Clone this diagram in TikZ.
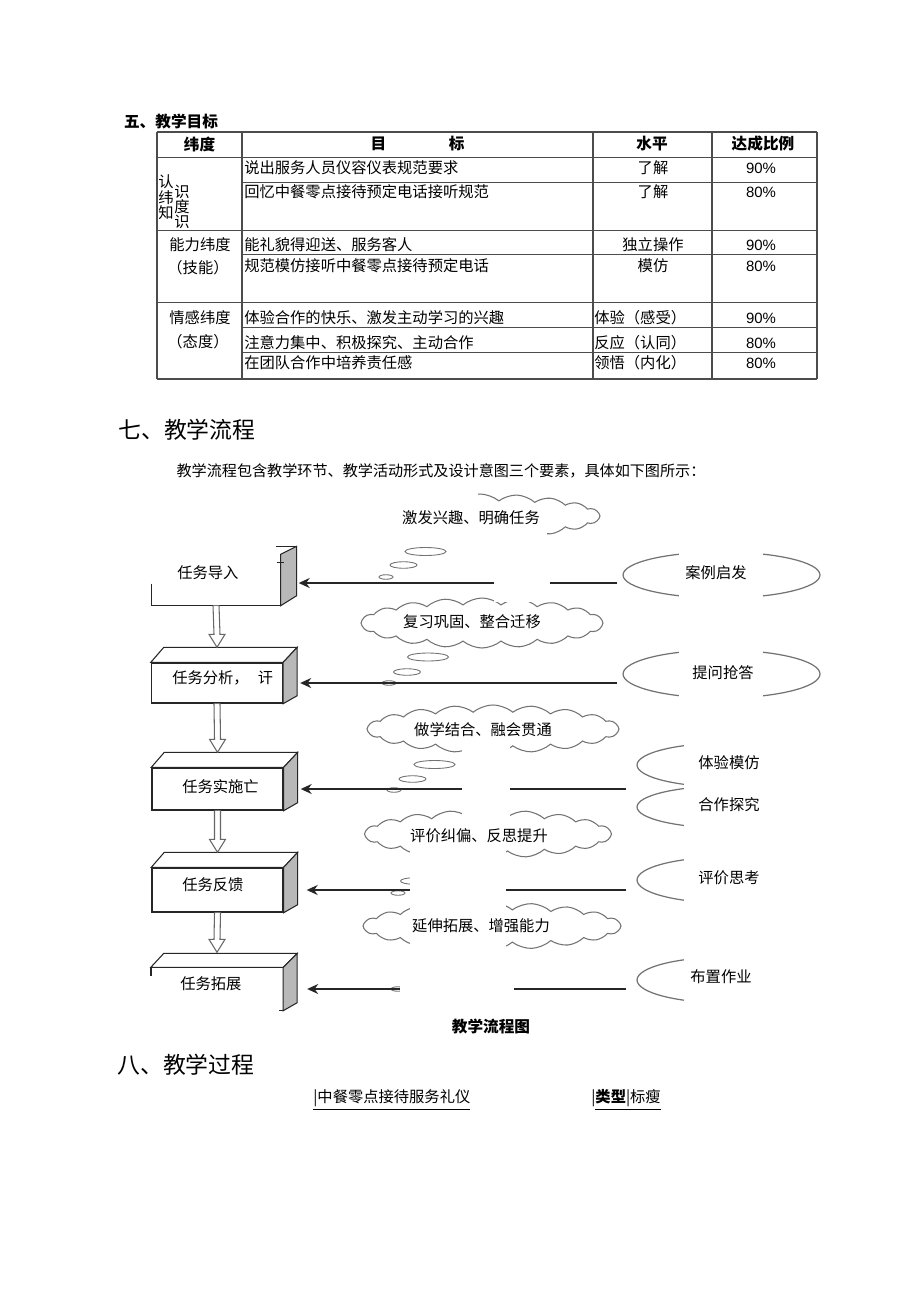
\documentclass[tikz,border=0pt]{standalone}
\usepackage{fontspec}
\setmainfont{Liberation Serif}
\newfontfamily\cjk{Noto Sans CJK SC}
\newfontfamily\arial{Liberation Sans}
\usetikzlibrary{shapes.geometric,shapes.symbols,arrows.meta,calc}

\begin{document}
\begin{tikzpicture}[x=0.02cm,y=-0.02cm,
	cn/.style={font=\cjk\fontsize{8.7}{10}\selectfont,inner sep=0pt},
	cnb/.style={font=\cjk\bfseries\fontsize{8.9}{10}\selectfont,inner sep=0pt},
	head/.style={font=\cjk\fontsize{13}{15}\selectfont,inner sep=0pt,anchor=west},
	pct/.style={font=\arial\fontsize{8.5}{10}\selectfont,inner sep=0pt},
	grid/.style={draw=black!70,line width=0.7pt},
	front/.style={minimum width=2.62cm,inner sep=0pt,draw=black!85,line width=0.8pt},
	side/.style={fill=black!28,draw=black!85,line width=0.6pt},
	lid/.style={fill=white,draw=black!85,line width=0.6pt},
	hollow/.style={draw=black!60,fill=white,line width=0.6pt},
	flowarrow/.style={draw=black!85,line width=1pt,-{Stealth[length=2.2mm,width=2mm]}},
	bubble/.style={ellipse,draw=black!55,line width=0.5pt,inner sep=0pt},
	puff/.style={cloud,cloud puffs=20,cloud puff arc=80,cloud ignores aspect,draw=black!55,line width=0.6pt,inner sep=0pt},
	oval/.style={ellipse,draw=black!55,line width=0.7pt,inner sep=0pt},
	mask/.style={fill=white,draw=none}]
\useasboundingbox[fill=white] (0,0) rectangle (920,1301);

% teaching goals table
\node[cnb] (goals) at (171,122) {五、教学目标};
\foreach \x in {157,242,593,712,817} \draw[grid] (\x,132) -- (\x,379);
\foreach \y in {132,157.6,230.6,302.6,379} \draw[grid] (157,\y) -- (817,\y);
\foreach \y in {182.5,254.8,327.2,352.8} \draw[grid] (242,\y) -- (817,\y);
\node[cnb] (hd1) at (199.5,144) {纬度};
\node[cnb] (hd2) at (417.5,144) {目\hspace{4em}标};
\node[cnb] (hd3) at (652,144) {水平};
\node[cnb] (hd4) at (763,144) {达成比例};
\foreach \y/\goal/\lvl/\al/\lx/\p [count=\i] in {
	168/说出服务人员仪容仪表规范要求/了解/center/653/90\%,
	192/回忆中餐零点接待预定电话接听规范/了解/center/653/80\%,
	245/能礼貌得迎送、服务客人/独立操作/center/653/90\%,
	266/规范模仿接听中餐零点接待预定电话/模仿/center/653/80\%,
	318/体验合作的快乐、激发主动学习的兴趣/体验（感受）/west/594/90\%,
	343/注意力集中、积极探究、主动合作/反应（认同）/west/594/80\%,
	363/在团队合作中培养责任感/领悟（内化）/west/594/80\%} {
	\node[cn,anchor=west] (goal\i) at (244,\y) {\goal};
	\node[cn,anchor=\al] (lvl\i) at (\lx,\y) {\lvl};
	\node[pct] (pct\i) at (761,\y) {\p};
}
\node[cn] (dimA1) at (166,182) {认};
\node[cn] (dimA2) at (166,198) {纬};
\node[cn] (dimA3) at (166,213) {知};
\node[cn] (dimA4) at (182,192) {识};
\node[cn] (dimA5) at (182,207) {度};
\node[cn] (dimA6) at (182,222) {识};
\node[cn] (dimB1) at (200,245) {能力纬度};
\node[cn] (dimB2) at (198,268) {（技能）};
\node[cn] (dimC1) at (200,318) {情感纬度};
\node[cn] (dimC2) at (198,342) {（态度）};

% teaching flow
\node[head] (flowtitle) at (118,430) {七、教学流程};
\node[cn,font=\cjk\fontsize{8.6}{10}\selectfont] (intro) at (441,471) {教学流程包含教学环节、教学活动形式及设计意图三个要素，具体如下图所示：};

\node[puff,minimum width=4.8cm,minimum height=0.88cm] (c1) at (480,516) {};
\node[puff,minimum width=4.84cm,minimum height=1cm] (c2) at (482,623) {};
\node[puff,minimum width=5.04cm,minimum height=0.96cm] (c3) at (493,729) {};
\node[puff,minimum width=4.94cm,minimum height=0.96cm] (c4) at (488,834) {};
\node[puff,minimum width=5.16cm,minimum height=0.94cm] (c5) at (492,926) {};
\foreach \xa/\ya/\xb/\yb/\xc/\yc [count=\i] in {
	425.5/551.5/403.5/565/386/577,
	428/657/407/672/389/683,
	434.5/764.5/412.5/779/394/790,
	436/868/414/881/398/893,
	436/963/414/976/398/989} {
	\node[bubble,minimum width=0.82cm,minimum height=0.16cm] (bubA\i) at (\xa,\ya) {};
	\node[bubble,minimum width=0.54cm,minimum height=0.13cm] (bubB\i) at (\xb,\yb) {};
	\node[bubble,minimum width=0.28cm,minimum height=0.09cm] (bubC\i) at (\xc,\yc) {};
}

\node[oval,minimum width=3.94cm,minimum height=0.92cm] (e1) at (721.5,575) {};
\node[oval,minimum width=3.94cm,minimum height=0.96cm] (e2) at (721.5,674) {};
\node[oval,minimum width=3.6cm,minimum height=0.88cm] (e3) at (727,765) {};
\node[oval,minimum width=3.6cm,minimum height=0.84cm] (e4) at (727,807) {};
\node[oval,minimum width=3.6cm,minimum height=0.92cm] (e5) at (727,880) {};
\node[oval,minimum width=3.6cm,minimum height=0.92cm] (e6) at (727,980) {};

% boxes
\node[front,draw=none,minimum width=2.56cm,minimum height=0.88cm] (b1) at (216,583) {};
\node[front,minimum height=0.8cm] (b2) at (217,683) {};
\node[front,minimum height=0.84cm] (b3) at (217.5,789) {};
\node[front,minimum height=0.88cm] (b4) at (217.5,890) {};
\node[front,draw=none,minimum height=0.84cm] (b5) at (217,989) {};

\draw[side] ($(b1.north east)+(0,-6)$) -- ++(16,-8) -- ($(b1.south east)+(16,-10)$) -- (b1.south east) -- cycle;
\draw[black!85,line width=0.8pt] ($(b1.north east)+(-5,-14)$) -- ++(21,0);
\draw[black!85,line width=0.6pt] ($(b1.north east)+(-4,2)$) -- ++(7,0);
\draw[black!85,line width=0.8pt] (b1.south west) ++(0,-22) -- (b1.south west) -- (b1.south east);
\foreach \i in {2,3,4} {
	\draw[lid] (b\i.north west) -- ++(13,-15) -- ($(b\i.north east)+(14,-15)$) -- (b\i.north east) -- cycle;
	\draw[side] (b\i.north east) -- ++(14,-15) -- ($(b\i.south east)+(14,-8)$) -- (b\i.south east) -- cycle;
}
\draw[lid] (b5.north west) -- ++(13,-14) -- ($(b5.north east)+(14,-14)$) -- (b5.north east) -- cycle;
\draw[side] (b5.north east) -- ++(14,-14) -- ($(b5.south east)+(14,-8)$) -- (b5.south east) -- cycle;
\draw[black!85,line width=0.8pt] (b5.north west) -- ++(0,9);
\draw[black!85,line width=0.8pt] (b5.south east) -- ++(-4,0);

\foreach \i/\j in {1/2,2/3,3/4,4/5}
	\draw[hollow] ($(b\i.south)+(-3,0)$) -- ($(b\j.north)+(-3,-28)$) -- ($(b\j.north)+(-8,-28)$)
		-- ($(b\j.north)+(0,-15)$) -- ($(b\j.north)+(8,-28)$) -- ($(b\j.north)+(3,-28)$) -- ($(b\i.south)+(3,0)$);

% arrows from activities to stages
\draw[flowarrow] (e1.west |- b1.east) ++(-5,0) -- ([xshift=0.36cm]b1.east);
\draw[flowarrow] (e2.west |- b2.east) ++(-5,0) -- ([xshift=0.34cm]b2.east);
\draw[flowarrow] (e3.west |- b3.east) ++(-10,0) -- ([xshift=0.34cm]b3.east);
\draw[flowarrow] (e5.west |- b4.east) ++(-10,0) -- ([xshift=0.46cm]b4.east);
\draw[flowarrow] (e6.west |- b5.east) ++(-10,0) -- ([xshift=0.48cm]b5.east);

% white text frames over the drawing
\fill[mask] (348,486) rectangle (478,541);
\fill[mask] (478,528) rectangle (547,541);
\fill[mask] (494,541) rectangle (550,602);
\fill[mask] (462,735) rectangle (510,822);
\fill[mask] (410,846) rectangle (506,958);
\fill[mask] (400,958) rectangle (514,1006);
\fill[mask] (679,540) rectangle (763,708);
\fill[mask] (684,735) rectangle (835,1010);

% labels
\node[cn] (k1) at (471,518) {激发兴趣、明确任务};
\node[cn] (k2) at (472,622) {复习巩固、整合迁移};
\node[cn] (k3) at (483,730) {做学结合、融会贯通};
\node[cn] (k4) at (479,836) {评价纠偏、反思提升};
\node[cn] (k5) at (481,926) {延伸拓展、增强能力};
\node[cn] (a1) at (716,573) {案例启发};
\node[cn] (a2) at (723,673) {提问抢答};
\node[cn] (a3) at (729,763) {体验模仿};
\node[cn] (a4) at (729,805) {合作探究};
\node[cn] (a5) at (729,878) {评价思考};
\node[cn] (a6) at (721,977) {布置作业};
\node[cn,anchor=west] (t1) at (177,573) {任务导入};
\node[cn,anchor=west] (t2) at (172,678) {任务分析，\hspace{0.6em}讦};
\node[cn,anchor=west] (t3) at (182,787) {任务实施亡};
\node[cn,anchor=west] (t4) at (182,885) {任务反馈};
\node[cn,anchor=west] (t5) at (180,984) {任务拓展};
\node[cnb] (caption) at (491,1027) {教学流程图};

% teaching process
\node[head] (proctitle) at (117,1065) {八、教学过程};
\node[cn,anchor=west] (lesson) at (313,1100) {\underline{|中餐零点接待服务礼仪}};
\node[cn,anchor=west] (kind) at (591,1100) {|\underline{\textbf{类型}|标瘦}};
\end{tikzpicture}
\end{document}
